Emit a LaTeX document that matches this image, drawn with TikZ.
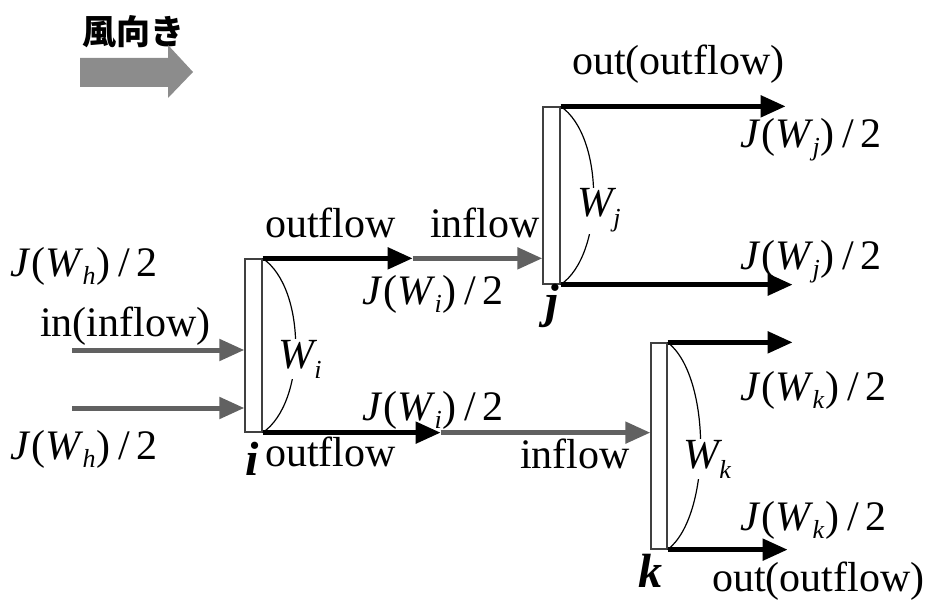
\documentclass[tikz,border=0pt]{standalone}
\usepackage{fontspec}
\setmainfont{Liberation Serif}
\newfontfamily\cjk{Noto Sans CJK JP}
\usetikzlibrary{arrows.meta}
\newcommand{\Jf}[1]{\textit{J}\kern1pt(\textit{W}\kern-1pt\raisebox{-8pt}{\fontsize{26}{26}\selectfont\textit{#1}}\kern1pt)\kern8pt/\kern6pt2}
\newcommand{\Wl}[1]{\textit{W}\kern-3pt\raisebox{-10pt}{\fontsize{26}{26}\selectfont\textit{#1}}}
\begin{document}
\begin{tikzpicture}[x=1pt,y=-1pt,
  lbl/.style={font=\fontsize{42}{44}\selectfont, inner sep=0pt, anchor=base west},
  wlbl/.style={font=\fontsize{43}{44}\selectfont, inner sep=1pt, anchor=base west, fill=white},
  idx/.style={font=\fontsize{48}{50}\selectfont\bfseries\itshape, inner sep=0pt, anchor=base west},
  box/.style={draw=black!75, line width=1.3pt, minimum width=17pt, inner sep=0pt, fill=white},
  flow/.style={line width=5pt, -{Triangle[length=25pt,width=21pt]}},
  blk/.style={flow, draw=black, fill=black},
  gry/.style={flow, draw=black!62, fill=black!62},
  curve/.style={line width=1.2pt, black}
]
\useasboundingbox (0,0) rectangle (927,604);

% wind direction
\node[font=\fontsize{34}{36}\selectfont\cjk\bfseries, inner sep=0pt, anchor=base west] (wind) at (82,45) {風向き};
\fill[black!45] (80,58) -- (168,58) -- (168,45) -- (193,72) -- (168,98) -- (168,87) -- (80,87) -- cycle;

% boxes
\node[box, minimum height=173pt] (bi) at (253.5,345.5) {};
\node[box, minimum height=177pt] (bj) at (551.5,195.5) {};
\node[box, minimum width=16pt, minimum height=206pt] (bk) at (659,446) {};

% curves
\draw[curve] (bi.north east) .. controls +(44,30) and +(44,-30) .. (bi.south east);
\draw[curve] (bj.north east) .. controls +(44,30) and +(44,-30) .. (bj.south east);
\draw[curve] (bk.north east) .. controls +(44,34) and +(44,-34) .. (bk.south east);

% inputs to i
\coordinate (h1) at (72,350);
\coordinate (h2) at (72,408);
\draw[gry] (h1) -- (h1 -| bi.west);
\draw[gry] (h2) -- (h2 -| bi.west);

% i to j and k
\coordinate (m1) at ([xshift=150pt]bi.north east);
\coordinate (m2) at ([xshift=178pt]bi.south east);
\draw[gry] (m1) -- (m1 -| bj.west);
\draw[blk] (bi.north east) -- (m1);
\draw[gry] (m2) -- (m2 -| bk.west);
\draw[blk] (bi.south east) -- (m2);

% outputs of j and k
\coordinate (oj1) at ([xshift=225pt]bj.north east);
\coordinate (oj2) at ([xshift=232pt]bj.south east);
\coordinate (ok1) at ([xshift=125pt]bk.north east);
\coordinate (ok2) at ([xshift=120pt]bk.south east);
\draw[blk] (bj.north east) -- (oj1);
\draw[blk] (bj.south east) -- (oj2);
\draw[blk] (bk.north east) -- (ok1);
\draw[blk] (bk.south east) -- (ok2);

% W labels
\node[wlbl] (wi) at (277,368) {\Wl{i}};
\node[wlbl] (wj) at (576,217) {\Wl{j}};
\node[wlbl] (wk) at (682,468) {\Wl{k}};

% index labels
\node[idx] (li) at (245,475) {i};
\node[idx] (lj) at (545,318) {j};
\node[idx] (lk) at (638,587) {k};

% text labels
\node[lbl] (jh1) at (10,277) {\Jf{h}};
\node[lbl] (inl) at (40,337) {in(inflow)};
\node[lbl] (jh2) at (10,459) {\Jf{h}};
\node[lbl] (of1) at (265,238) {outflow};
\node[lbl] (if1) at (430,238) {inflow};
\node[lbl] (ji1) at (362,305) {\Jf{i}};
\node[lbl] (ji2) at (362,420) {\Jf{i}};
\node[lbl] (of2) at (265,466) {outflow};
\node[lbl] (if2) at (520,468) {inflow};
\node[lbl] (oo1) at (572,75) {out(outflow)};
\node[lbl] (jj1) at (740,148) {\Jf{j}};
\node[lbl] (jj2) at (740,270) {\Jf{j}};
\node[lbl] (jk1) at (740,400) {\Jf{k}};
\node[lbl] (jk2) at (740,530) {\Jf{k}};
\node[lbl] (oo2) at (712,591) {out(outflow)};
\end{tikzpicture}
\end{document}
